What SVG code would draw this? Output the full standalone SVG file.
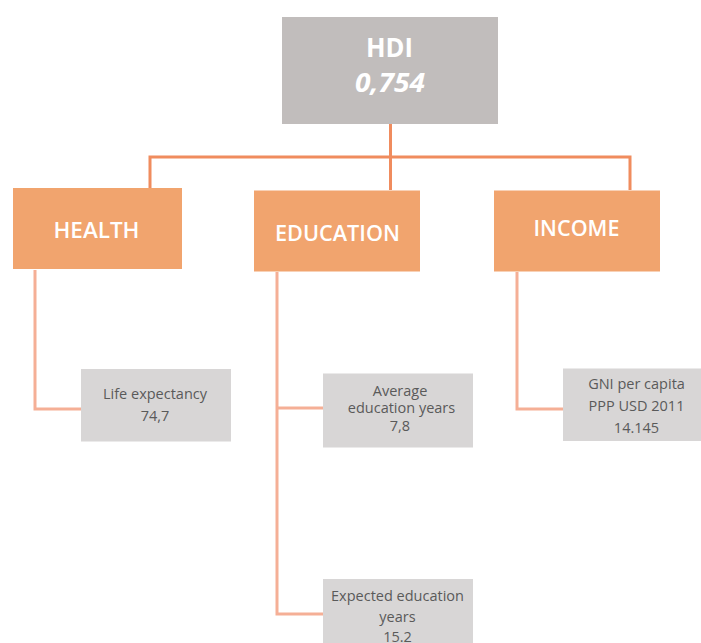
<svg xmlns="http://www.w3.org/2000/svg" width="701" height="643" viewBox="0 0 701 643">
<style>
.main{fill:#f1a46e}
.sub{fill:#d8d6d6}
.lbl{font-family:"Open Sans","Liberation Sans",sans-serif;font-weight:600;fill:#ffffff;text-anchor:middle}
.hdi{font-family:"Open Sans","Liberation Sans",sans-serif;font-weight:700;font-size:26px;fill:#ffffff;text-anchor:middle}
.t{font-family:"Open Sans","Liberation Sans",sans-serif;font-size:14.5px;fill:#5a5a5a;text-anchor:middle}
.c1{fill:none;stroke:#f08c5e;stroke-width:3}
.c2{fill:none;stroke:#f5af96;stroke-width:3}
</style>
<rect width="701" height="643" fill="#ffffff"/>
<g id="connectors">
<path class="c1" d="M390.5 124 V190 M150 190 V157 H630 V190"/>
<path class="c2" d="M35 270 V409 H81"/>
<path class="c2" d="M277 272 V614 H323 M277 408 H323"/>
<path class="c2" d="M517 272 V409 H563"/>
</g>
<g id="hdi">
<rect x="282" y="17" width="216" height="107" fill="#c1bdbc"/>
<text class="hdi" x="389.5" y="57" textLength="47" lengthAdjust="spacingAndGlyphs">HDI</text>
<text class="hdi" x="390" y="91.5" font-style="italic" textLength="70" lengthAdjust="spacingAndGlyphs">0,754</text>
</g>
<g id="health">
<rect class="main" x="13" y="188" width="169" height="81"/>
<text class="lbl" x="96.5" y="238" font-size="22" textLength="86" lengthAdjust="spacingAndGlyphs">HEALTH</text>
</g>
<g id="education">
<rect class="main" x="254" y="190.5" width="166" height="81"/>
<text class="lbl" x="337.5" y="240.5" font-size="22" textLength="125" lengthAdjust="spacingAndGlyphs">EDUCATION</text>
</g>
<g id="income">
<rect class="main" x="494" y="190.5" width="166" height="81"/>
<text class="lbl" x="576.5" y="236" font-size="22" textLength="86" lengthAdjust="spacingAndGlyphs">INCOME</text>
</g>
<g id="life">
<rect class="sub" x="81" y="369" width="150" height="72.5"/>
<text class="t" x="155" y="399">Life expectancy</text>
<text class="t" x="155" y="420.5">74,7</text>
</g>
<g id="average">
<rect class="sub" x="323" y="373.5" width="150" height="74"/>
<text class="t" x="400" y="396" font-size="14">Average</text>
<text class="t" x="401.5" y="413" font-size="14">education years</text>
<text class="t" x="400" y="430.5" font-size="14">7,8</text>
</g>
<g id="expected">
<rect class="sub" x="323" y="579" width="150" height="70"/>
<text class="t" x="397.5" y="601">Expected education</text>
<text class="t" x="397.5" y="622">years</text>
<text class="t" x="397.5" y="642">15.2</text>
</g>
<g id="gni">
<rect class="sub" x="563" y="368.5" width="139" height="72.5"/>
<text class="t" x="636.5" y="389">GNI per capita</text>
<text class="t" x="636.5" y="410.5">PPP USD 2011</text>
<text class="t" x="636.5" y="432.5">14.145</text>
</g>
</svg>
